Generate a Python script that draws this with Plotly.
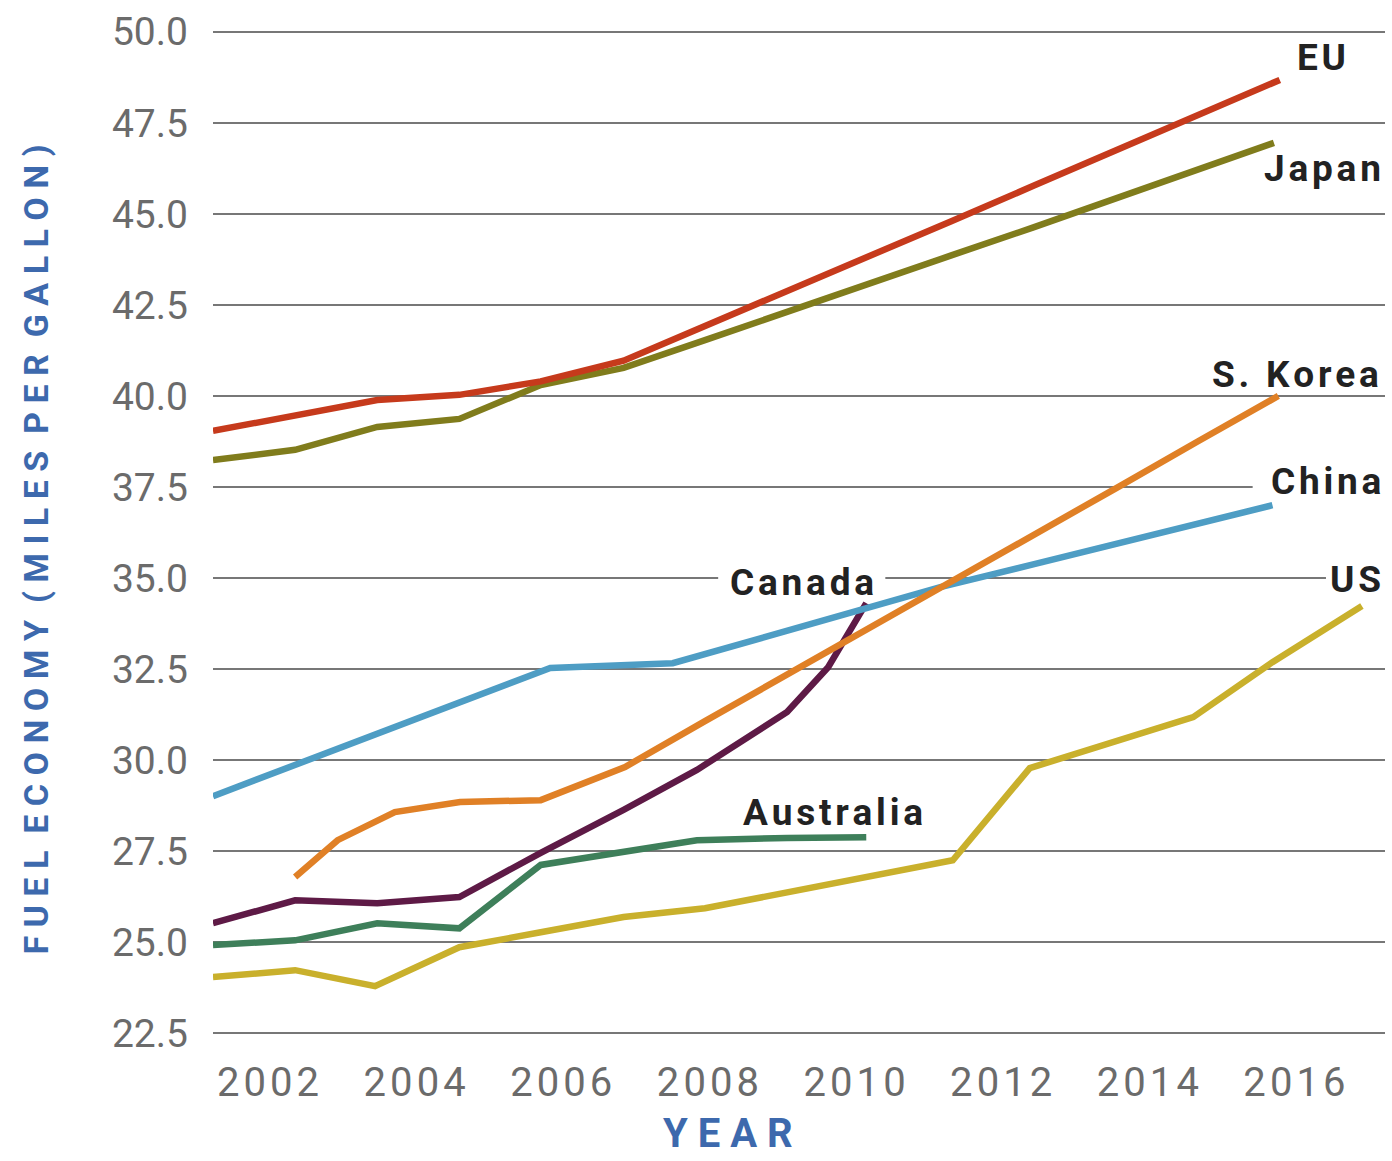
import plotly.graph_objects as go

# ---- data ----
eu_x = [2001.25, 2002.37, 2003.49, 2004.61, 2005.72, 2006.85, 2007.97, 2009.08, 2010.20, 2011.32, 2012.44, 2013.56, 2014.68, 2015.80]
eu_y = [39.04, 39.45, 39.89, 40.03, 40.40, 40.97, 41.92, 42.88, 43.84, 44.80, 45.77, 46.74, 47.70, 48.68]

japan_x = [2001.25, 2002.37, 2003.49, 2004.61, 2005.72, 2006.85, 2007.97, 2009.08, 2010.20, 2011.32, 2012.44, 2013.56, 2014.68, 2015.72]
japan_y = [38.24, 38.52, 39.15, 39.37, 40.30, 40.77, 41.54, 42.32, 43.09, 43.86, 44.63, 45.41, 46.18, 46.95]

korea_x = [2002.37, 2002.95, 2003.73, 2004.62, 2005.72, 2006.87, 2007.96, 2009.08, 2010.21, 2011.33, 2012.45, 2013.57, 2014.68, 2015.78]
korea_y = [26.79, 27.80, 28.57, 28.85, 28.90, 29.81, 31.07, 32.34, 33.63, 34.91, 36.19, 37.47, 38.75, 40.00]

china_x = [2001.25, 2002.37, 2003.49, 2004.61, 2005.85, 2007.52, 2009.08, 2010.21, 2011.17, 2012.45, 2013.57, 2014.68, 2015.70]
china_y = [29.01, 29.86, 30.71, 31.57, 32.53, 32.66, 33.56, 34.20, 34.75, 35.38, 35.93, 36.48, 37.00]

canada_x = [2001.25, 2002.37, 2003.49, 2004.61, 2005.72, 2006.85, 2007.85, 2009.08, 2009.64, 2009.98, 2010.16]
canada_y = [25.52, 26.15, 26.07, 26.24, 27.45, 28.63, 29.73, 31.32, 32.55, 33.76, 34.31]

australia_x = [2001.25, 2002.37, 2003.49, 2004.61, 2005.72, 2006.85, 2007.85, 2009.08, 2010.16]
australia_y = [24.92, 25.05, 25.52, 25.38, 27.12, 27.47, 27.80, 27.86, 27.88]

us_x = [2001.25, 2002.37, 2003.46, 2004.61, 2005.72, 2006.85, 2007.96, 2009.08, 2010.21, 2011.34, 2012.39, 2013.57, 2014.62, 2015.70, 2016.92]
us_y = [24.04, 24.23, 23.79, 24.86, 25.27, 25.69, 25.93, 26.37, 26.81, 27.25, 29.78, 30.52, 31.18, 32.69, 34.23]

series_names = ["EU", "Japan", "S. Korea", "China", "Canada", "Australia", "US"]
y_tick_vals = [22.5, 25.0, 27.5, 30.0, 32.5, 35.0, 37.5, 40.0, 42.5, 45.0, 47.5, 50.0]
x_tick_vals = [2002, 2004, 2006, 2008, 2010, 2012, 2014, 2016]

# ---- styles ----
colors = {
    "EU": "#c63a1c",
    "Japan": "#807c1c",
    "S. Korea": "#e08026",
    "China": "#4e9dc4",
    "Canada": "#5e1a46",
    "Australia": "#3e7f5a",
    "US": "#c9b02c",
}
data = {
    "EU": (eu_x, eu_y),
    "Japan": (japan_x, japan_y),
    "S. Korea": (korea_x, korea_y),
    "China": (china_x, china_y),
    "Canada": (canada_x, canada_y),
    "Australia": (australia_x, australia_y),
    "US": (us_x, us_y),
}

HAIR = "\u200a"
def spaced(s, sep=HAIR):
    return sep.join(list(s))

fig = go.Figure()
for name in ["US", "Australia", "Canada", "China", "S. Korea", "Japan", "EU"]:
    xs, ys = data[name]
    fig.add_trace(go.Scatter(x=xs, y=ys, mode="lines", name=name,
                             line=dict(color=colors[name], width=6.5),
                             showlegend=False, hoverinfo="x+y+name"))

# label placements: (x, y, xanchor)
label_pos = {
    "EU": (2016.73, 49.29, "right"),
    "Japan": (2017.21, 46.26, "right"),
    "S. Korea": (2017.18, 40.60, "right"),
    "China": (2017.21, 37.64, "right"),
    "US": (2017.21, 34.95, "right"),
    "Canada": (2009.28, 34.87, "center"),
    "Australia": (2009.71, 28.57, "center"),
}
label_font = dict(family="Roboto, Arial, sans-serif", size=37, color="#222222", weight="bold")
for name in series_names:
    x, y, xa = label_pos[name]
    fig.add_annotation(x=x, y=y, xref="x", yref="y", text=spaced(name),
                       showarrow=False, xanchor=xa, yanchor="middle",
                       font=label_font)

# white gaps in gridlines behind labels
gaps = [
    (2015.43, 2017.4, 37.5),   # China
    (2008.14, 2010.42, 35.0),  # Canada
    (2016.43, 2017.4, 35.0),   # US
]
for x0, x1, yv in gaps:
    fig.add_shape(type="rect", xref="x", yref="y", x0=x0, x1=x1, y0=yv - 0.1, y1=yv + 0.1,
                  fillcolor="white", line=dict(width=0), layer="between")

axis_title_font = dict(family="Roboto, Arial, sans-serif", size=34, color="#3d69ad", weight="bold")
ytitle = "\u00a0\u00a0".join(" ".join(list(w)) for w in "FUEL ECONOMY (MILES PER GALLON)".split(" "))
fig.add_annotation(x=-0.151, y=0.483, xref="paper", yref="paper", text=ytitle,
                   textangle=-90, showarrow=False, xanchor="center", yanchor="middle",
                   font=axis_title_font)
fig.add_annotation(x=0.4394, y=-0.098, xref="paper", yref="paper", text=" ".join(list("YEAR")),
                   showarrow=False, xanchor="center", yanchor="middle",
                   font=dict(family="Roboto, Arial, sans-serif", size=40, color="#3d69ad", weight="bold"))

fig.update_layout(
    width=1392, height=1161,
    margin=dict(l=213, r=7, t=30, b=126),
    paper_bgcolor="white", plot_bgcolor="white",
    xaxis=dict(range=[2001.25, 2017.235], tickvals=x_tick_vals,
               ticktext=[spaced(str(v)) for v in x_tick_vals],
               showgrid=False, zeroline=False, showline=False, ticks="",
               ticklabelstandoff=20,
               tickfont=dict(family="Roboto, Arial, sans-serif", size=40, color="#6b6b6b")),
    yaxis=dict(range=[22.45, 50.05], tickvals=y_tick_vals,
               ticktext=[f"{v:.1f}" for v in y_tick_vals],
               showgrid=True, gridcolor="#777777", gridwidth=2,
               zeroline=False, showline=False, ticks="",
               ticklabelstandoff=24,
               tickfont=dict(family="Roboto, Arial, sans-serif", size=39, color="#6b6b6b")),
)

fig.write_html("out.html", config={"displayModeBar": False},
               post_script="document.body.style.margin='0';document.body.style.overflow='hidden';")
